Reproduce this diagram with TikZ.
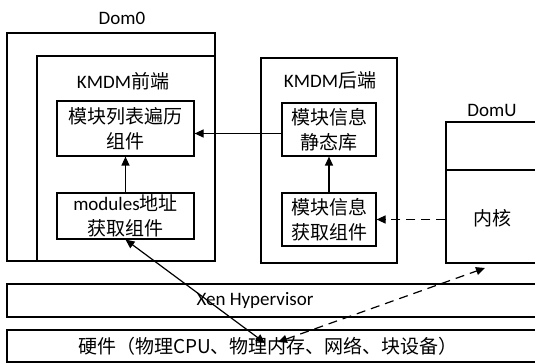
\documentclass[tikz,border=0pt]{standalone}
\usepackage{fontspec}
\setmainfont{Carlito}
\newfontfamily\cjk{Noto Sans CJK SC}
\usetikzlibrary{arrows.meta,positioning}
\tikzset{
  every node/.style={font=\fontsize{19}{25}\selectfont},
  box/.style={draw,line width=1.2pt,rectangle,inner sep=0pt},
  txt/.style={align=center,inner sep=0pt},
  arr/.style={line width=1.2pt,-{Triangle[length=9pt,width=8pt]}},
  darr/.style={line width=1.2pt,{Triangle[length=9pt,width=8pt]}-{Triangle[length=9pt,width=8pt]}}
}
\begin{document}
\begin{tikzpicture}[x=1pt,y=-1pt]
\clip (0,0) rectangle (535,363);
\fill[white] (0,0) rectangle (535,363);

% Dom0
\node[box,minimum width=208pt,minimum height=228pt] (dom0) at (111,147) {};
\node[txt] (dom0l) at (122,18) {Dom0};
\node[box,minimum width=178pt,minimum height=205pt] (front) at (126,158.5) {};
\node[txt] (frontl) at (123,81) {KMDM{\cjk 前端}};
\node[box,minimum width=137pt,minimum height=55pt] (list) at (125.5,128.5) {};
\node[txt] at (list) {{\cjk 模块列表遍历}\\{\cjk 组件}};
\node[box,minimum width=137pt,minimum height=46pt] (addr) at (125.5,216) {};
\node[txt] at (addr) {modules{\cjk 地址}\\{\cjk 获取组件}};

% backend
\node[box,minimum width=136pt,minimum height=205pt] (back) at (329,160.5) {};
\node[txt] (backl) at (330,80) {KMDM{\cjk 后端}};
\node[box,minimum width=94pt,minimum height=53pt] (static) at (329,129.5) {};
\node[txt] at (static) {{\cjk 模块信息}\\{\cjk 静态库}};
\node[box,minimum width=94pt,minimum height=53pt] (fetch) at (329,219.5) {};
\node[txt] at (fetch) {{\cjk 模块信息}\\{\cjk 获取组件}};

% DomU
\node[box,minimum width=99pt,minimum height=141pt] (domu) at (495.5,192.5) {};
\node[txt] (domul) at (492,110) {DomU};
\draw[line width=1.2pt] (446,170) -- (545,170);
\node[txt] (kern) at (492,218) {\cjk 内核};

% Xen and hardware
\node[box,minimum width=538pt,minimum height=33pt] (xen) at (276,300.5) {};
\node[txt] at (255,300) {Xen Hypervisor};
\node[box,minimum width=538pt,minimum height=32pt] (hw) at (276,346) {};
\node[txt] at (268,346) {\cjk 硬件（物理CPU、物理内存、网络、块设备）};

\coordinate (hwA) at (265,343);
\coordinate (hwB) at (278,342);
\coordinate (kernB) at (485,268);

\draw[arr] (addr) -- (list);
\draw[arr] (fetch) -- (static);
\draw[arr] ([yshift=-4pt]static.west) -- ([yshift=-4pt]static.west -| list.east);
\draw[arr,dash pattern=on 9pt off 6pt] (fetch.east -| domu.west) -- (fetch.east);
\draw[darr] (addr.south) -- (hwA);
\draw[darr,dash pattern=on 9pt off 6pt] (hwB) -- (kernB);
\end{tikzpicture}
\end{document}
